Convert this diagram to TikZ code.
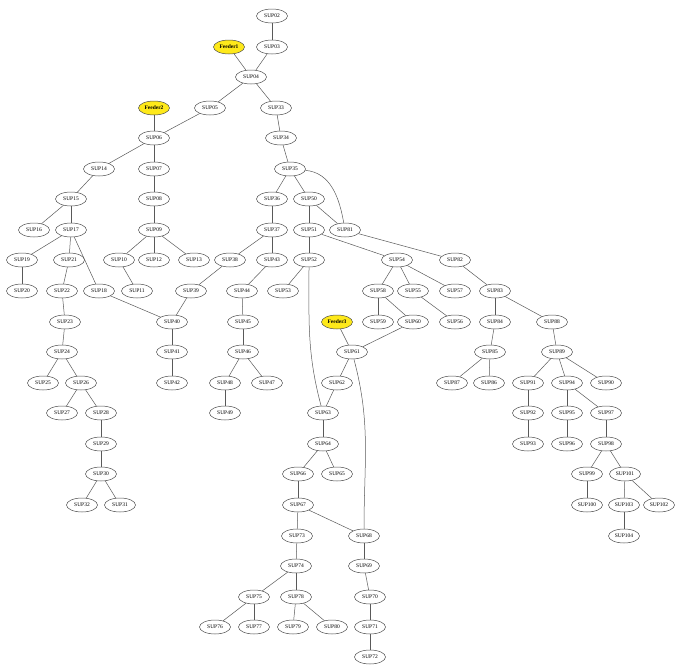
\documentclass[tikz,border=0pt]{standalone}
\usepackage{fontspec}
\setmainfont{Liberation Serif}
\usetikzlibrary{shapes.geometric}
\tikzset{
  sup/.style={ellipse, draw=black!70, line width=0.5pt, minimum width=31pt, minimum height=14pt, inner sep=0pt, font=\fontsize{5.5}{6}\selectfont, fill=white},
  feeder/.style={sup, fill=yellow!90!orange!90, font=\fontsize{5.5}{6}\selectfont\bfseries},
  edge/.style={draw=black!65, line width=0.5pt}
}
\begin{document}
\begin{tikzpicture}[x=1pt,y=-1pt]
\useasboundingbox (0,0) rectangle (675,665);
% nodes
\node[feeder] (f1) at (229,47) {Feeder1};
\node[feeder] (f2) at (154,108) {Feeder2};
\node[feeder] (f3) at (337,322) {Feeder3};
\foreach \n/\x/\y in {02/272/16, 03/272/47, 04/251/77, 05/210/108, 33/276/108, 06/154/138, 34/281/138,
 14/99/169, 07/154/169, 35/290/169, 15/71/199, 08/154/199, 36/272/199, 50/309/199,
 16/34/230, 17/71/230, 09/154/230, 37/272/230, 51/309/230, 81/345/230,
 19/22/260, 21/69/260, 10/119/260, 12/154/260, 13/194/260, 38/230/260, 43/272/260, 52/309/260, 54/397/260, 82/455/260,
 20/22/291, 22/62/291, 18/99/291, 11/137/291, 39/191/291, 44/242/291, 53/283/291, 58/378/291, 55/413/291, 57/455/291, 83/495/291,
 23/65/322, 40/172/322, 45/243/322, 59/378/322, 60/413/322, 56/455/322, 84/495/322, 88/552/322,
 24/62/352, 41/172/352, 46/243/352, 61/352/352, 85/490/352, 89/557/352,
 25/43/383, 26/81/383, 42/172/383, 48/225/383, 47/267/383, 62/337/383, 87/452/383, 86/489/383, 91/528/383, 94/567/383, 90/606/383,
 27/62/413, 28/101/413, 49/225/413, 63/323/413, 92/528/413, 95/567/413, 97/606/413,
 29/101/444, 64/323/444, 93/528/444, 96/567/444, 98/606/444,
 30/101/474, 66/298/474, 65/337/474, 99/587/474, 101/625/474,
 32/82/505, 31/120/505, 67/298/505, 100/587/505, 103/624/505, 102/659/505,
 73/297/536, 68/364/536, 104/624/536,
 74/296/566, 69/364/566,
 75/254/597, 78/296/597, 70/370/597,
 76/215/627, 77/254/627, 79/293/627, 80/332/627, 71/370/627,
 72/370/657}
 {\node[sup] (n\n) at (\x,\y) {SUP\n};}
% edges
\begin{scope}[on background layer/.style={}]
\foreach \a/\b in {02/03, 03/04, 04/05, 04/33, 05/06, 33/34, 34/35, 06/14, 06/07, 14/15, 07/08,
 15/16, 15/17, 08/09, 17/19, 17/21, 17/18, 09/10, 09/12, 09/13, 19/20, 21/22, 10/11, 18/40, 39/40,
 22/23, 23/24, 40/41, 41/42, 24/25, 24/26, 26/27, 26/28, 28/29, 29/30, 30/32, 30/31,
 35/36, 35/50, 36/37, 50/51, 50/81, 37/38, 37/43, 38/39, 43/44, 44/45, 45/46, 46/48, 46/47, 48/49,
 51/52, 51/54, 52/53, 54/58, 54/55, 54/57, 58/59, 58/60, 55/56, 60/61, 61/62, 62/63, 63/64, 64/66, 64/65,
 66/67, 67/73, 67/68, 73/74, 74/75, 74/78, 75/76, 75/77, 78/79, 78/80, 68/69, 69/70, 70/71, 71/72,
 81/82, 82/83, 83/84, 83/88, 84/85, 85/87, 85/86, 88/89, 89/91, 89/94, 89/90, 91/92, 92/93,
 94/95, 95/96, 94/97, 97/98, 98/99, 98/101, 99/100, 101/103, 101/102, 103/104}
 {\draw[edge] (n\a) -- (n\b);}
\end{scope}
\draw[edge] (f1) -- (n04);
\draw[edge] (f2) -- (n06);
\draw[edge] (f3) -- (n61);
\draw[edge] (n35) to[out=-5, in=100] (n81);
\draw[edge] (n52) to[out=-90, in=105] (n63);
\draw[edge] (n61) to[out=-75, in=90] (n68);
\end{tikzpicture}
\end{document}
